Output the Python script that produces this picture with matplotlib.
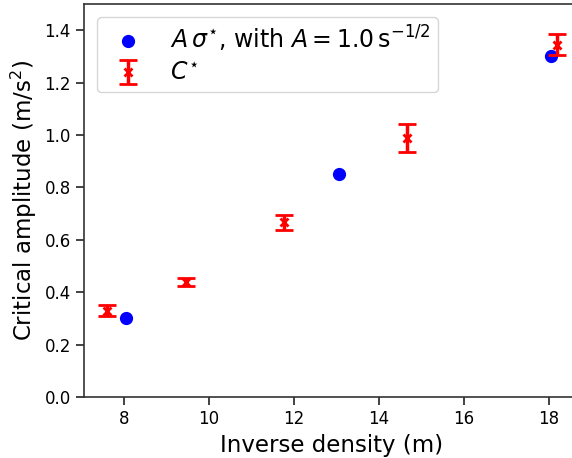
import matplotlib
matplotlib.use("Agg")
import matplotlib.pyplot as plt

# sigma* points (blue)
sigma_x = [8.05, 13.05, 18.05]
sigma_y = [0.30, 0.85, 1.30]

# C* points with error bars (red)
c_x = [7.6, 9.45, 11.77, 14.65, 18.2]
c_y = [0.33, 0.438, 0.667, 0.99, 1.345]
c_err = [0.02, 0.016, 0.029, 0.053, 0.04]

fig = plt.figure(figsize=(5.72, 4.58), dpi=100)
ax = fig.add_axes([0.147, 0.1332, 0.867, 0.858])

ax.plot(sigma_x, sigma_y, 'o', color='blue', markersize=8.5,
        label=r'$A\,\sigma^{\star}$, with $A = 1.0\,\mathrm{s}^{-1/2}$')
ax.errorbar(c_x, c_y, yerr=c_err, fmt='x', color='red', ecolor='red',
            markersize=6, markeredgewidth=2, elinewidth=2.5,
            capsize=6.5, capthick=2.5, label=r'$C^{\star}$')

ax.set_xlim(7.06, 18.73)
ax.set_ylim(0, 1.5)
ax.set_xticks([8, 10, 12, 14, 16, 18])
ax.set_yticks([0.0, 0.2, 0.4, 0.6, 0.8, 1.0, 1.2, 1.4])
ax.tick_params(labelsize=12, length=6, width=1.2, colors='#222222', labelcolor='black')
for s in ax.spines.values():
    s.set_linewidth(1.2)
    s.set_color('#333333')

ax.set_xlabel('Inverse density (m)', fontsize=16.5)
ax.set_ylabel('Critical amplitude (m/s$^2$)', fontsize=16.5)

ax.legend(loc='upper left', fontsize=17, borderaxespad=0.55,
          labelspacing=0.3, borderpad=0.3)

fig.savefig('out.png', dpi=100)
